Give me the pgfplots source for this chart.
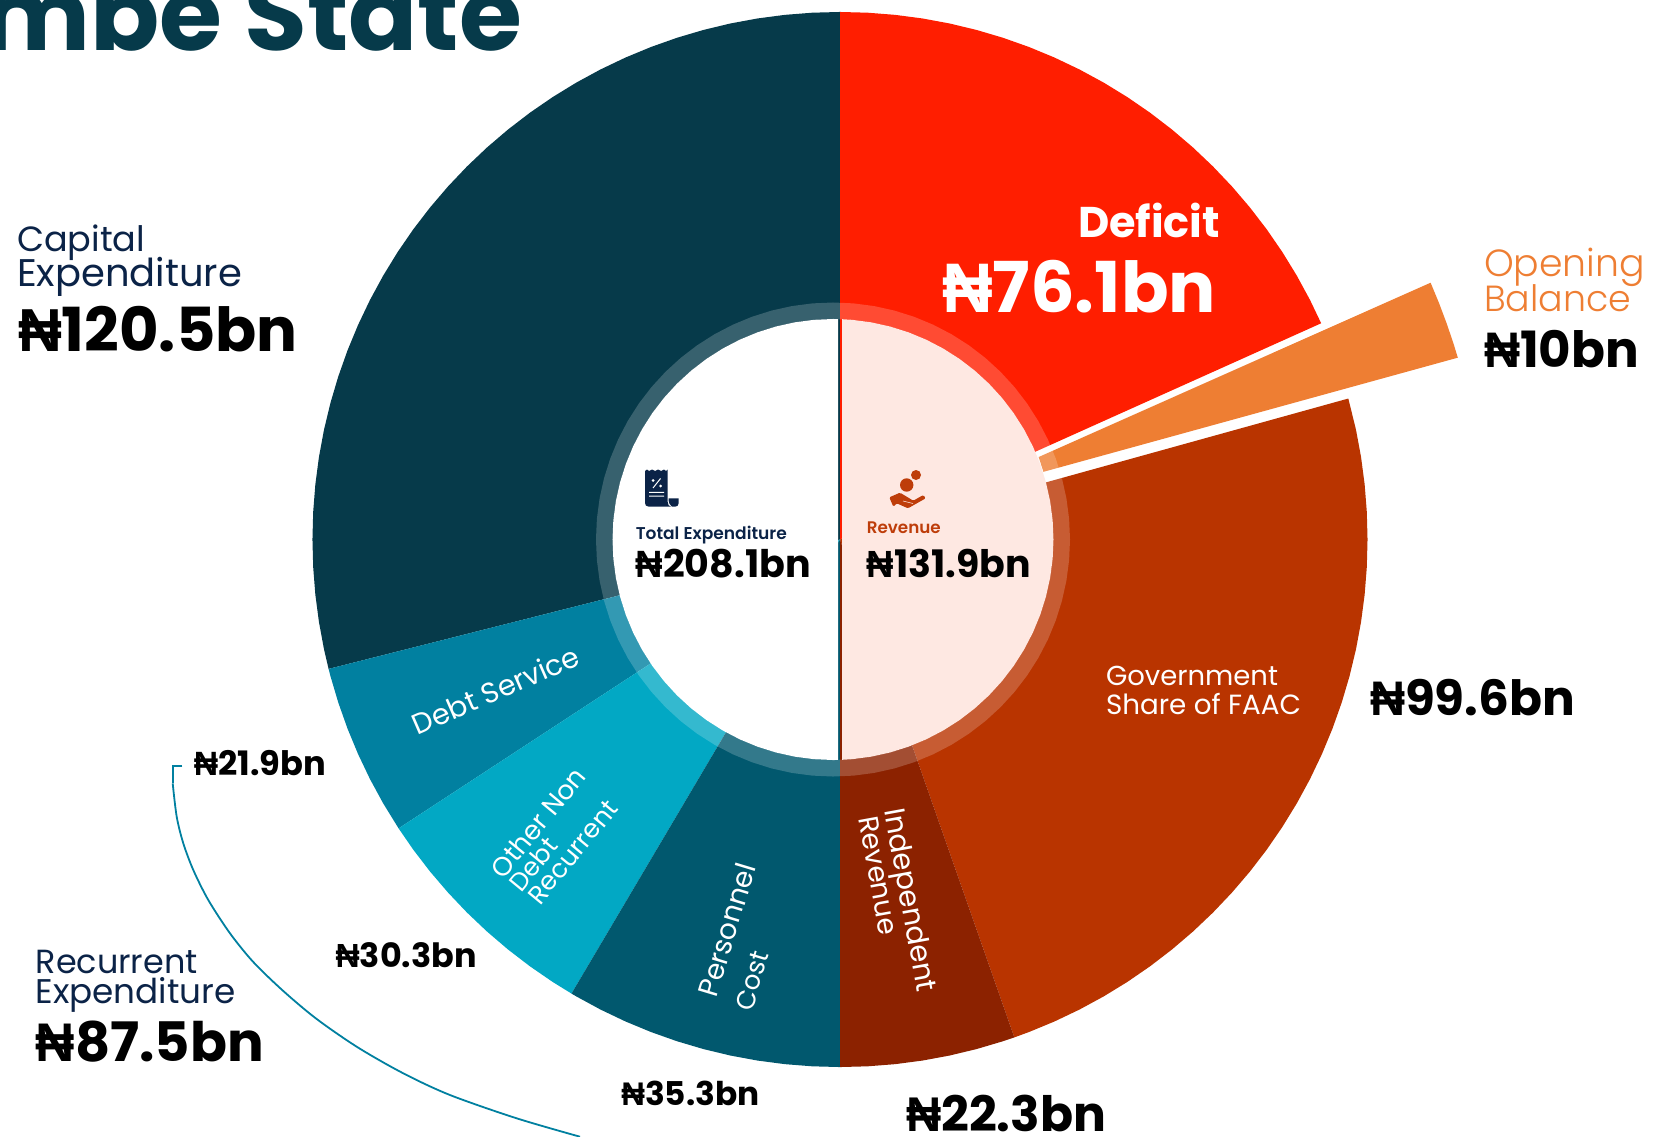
\documentclass[border=0pt]{standalone}
\usepackage{pgfplots}
\pgfplotsset{compat=1.18}
\usepgfplotslibrary{polar}
\usepackage{fontspec}
\setmainfont{Poppins}
\newfontfamily\pb{Poppins}[UprightFont=* Bold]
\newfontfamily\pl{Poppins}[UprightFont=* Light]
\newfontfamily\pmed{Poppins}[UprightFont=* Medium]
\newfontfamily\psemi{Poppins}[UprightFont=* SemiBold]
\newfontfamily\nai{Liberation Sans}[UprightFont=* Bold]
\newcommand\naira{{\nai ₦}}
\definecolor{capc}{HTML}{063A4A}
\definecolor{debtc}{HTML}{0180A0}
\definecolor{otherc}{HTML}{02A8C4}
\definecolor{persc}{HTML}{01586E}
\definecolor{defc}{HTML}{FF1E00}
\definecolor{openc}{HTML}{EE7E33}
\definecolor{faacc}{HTML}{B93400}
\definecolor{indc}{HTML}{8C2200}
\definecolor{pinkc}{HTML}{FEE8E2}
\definecolor{navyc}{HTML}{0B2347}
\definecolor{revc}{HTML}{BE3D0A}
\newcommand\lab[6]{\node[anchor=base west,inner sep=0pt,outer sep=0pt,rotate=#3,text=#4] at (#1,#2) {\resizebox{#5pt}{!}{#6}};}
\begin{document}
\begin{tikzpicture}[x=1pt,y=-1pt]
\path[use as bounding box] (0,0) rectangle (1660,1137);
% title, cut by the top of the page
\node[anchor=base east,inner sep=0pt,outer sep=0pt,text=capc] at (522,50.5) {\fontsize{102}{102}\selectfont\pb Gombe State};
% outer ring: angles from the values (180 degrees = 208.1bn), radius in px
\begin{polaraxis}[at={(840pt,-539.5pt)},anchor=center,scale only axis,width=1300pt,height=1300pt,xmin=0,xmax=360,ymin=0,ymax=650,hide axis,clip=false]
% Capital Expenditure 120.5
\addplot[fill=capc,draw=none,no markers] coordinates {(90,0)(90,527.5)(93,527.5)(96,527.5)(99,527.5)(102,527.5)(105,527.5)(108,527.5)(111,527.5)(114,527.5)(117,527.5)(120,527.5)(123,527.5)(126,527.5)(129,527.5)(132,527.5)(135,527.5)(138,527.5)(141,527.5)(144,527.5)(147,527.5)(150,527.5)(153,527.5)(156,527.5)(159,527.5)(162,527.5)(165,527.5)(168,527.5)(171,527.5)(174,527.5)(177,527.5)(180,527.5)(183,527.5)(186,527.5)(189,527.5)(192,527.5)(194.2,527.5)};
% Debt Service 21.9
\addplot[fill=debtc,draw=none,no markers] coordinates {(194.2,0)(194.2,527.5)(195,527.5)(198,527.5)(201,527.5)(204,527.5)(207,527.5)(210,527.5)(213.2,527.5)};
% Other Non Debt Recurrent 30.3
\addplot[fill=otherc,draw=none,no markers] coordinates {(213.2,0)(213.2,527.5)(216,527.5)(219,527.5)(222,527.5)(225,527.5)(228,527.5)(231,527.5)(234,527.5)(237,527.5)(239.4,527.5)};
% Personnel Cost 35.3
\addplot[fill=persc,draw=none,no markers] coordinates {(239.4,0)(239.4,527.5)(240,527.5)(243,527.5)(246,527.5)(249,527.5)(252,527.5)(255,527.5)(258,527.5)(261,527.5)(264,527.5)(267,527.5)(270,527.5)};
% Deficit 76.1
\addplot[fill=defc,draw=none,no markers] coordinates {(90,0)(90,527.5)(87,527.5)(84,527.5)(81,527.5)(78,527.5)(75,527.5)(72,527.5)(69,527.5)(66,527.5)(63,527.5)(60,527.5)(57,527.5)(54,527.5)(51,527.5)(48,527.5)(45,527.5)(42,527.5)(39,527.5)(36,527.5)(33,527.5)(30,527.5)(27,527.5)(24.2,527.5)};
% Opening Balance 10, pulled out
\addplot[fill=openc,draw=none,no markers] coordinates {(22.55,215.1)(23.5,644)(21.5,644)(19.5,644)(17.5,644)(16.4,644)(18.4,214.4)};
% Government Share of FAAC 99.6
\addplot[fill=faacc,draw=none,no markers] coordinates {(15.5,0)(15.5,527.5)(12,527.5)(9,527.5)(6,527.5)(3,527.5)(0,527.5)(-3,527.5)(-6,527.5)(-9,527.5)(-12,527.5)(-15,527.5)(-18,527.5)(-21,527.5)(-24,527.5)(-27,527.5)(-30,527.5)(-33,527.5)(-36,527.5)(-39,527.5)(-42,527.5)(-45,527.5)(-48,527.5)(-51,527.5)(-54,527.5)(-57,527.5)(-60,527.5)(-63,527.5)(-66,527.5)(-69,527.5)(-70.7,527.5)};
% Independent Revenue 22.3
\addplot[fill=indc,draw=none,no markers] coordinates {(-70.7,0)(-70.7,527.5)(-72,527.5)(-75,527.5)(-78,527.5)(-81,527.5)(-84,527.5)(-87,527.5)(-90,527.5)(-90,0)};
\end{polaraxis}
% centre: pale ring and the two half discs, a little to the left of the ring's centre
\begin{polaraxis}[at={(833pt,-539.5pt)},anchor=center,scale only axis,width=1300pt,height=1300pt,xmin=0,xmax=360,ymin=0,ymax=650,hide axis,clip=false]
\addplot[fill=white,fill opacity=0.2,draw=none,no markers] coordinates {(0,237)(5,237)(10,237)(15,237)(20,237)(25,237)(30,237)(35,237)(40,237)(45,237)(50,237)(55,237)(60,237)(65,237)(70,237)(75,237)(80,237)(85,237)(90,237)(95,237)(100,237)(105,237)(110,237)(115,237)(120,237)(125,237)(130,237)(135,237)(140,237)(145,237)(150,237)(155,237)(160,237)(165,237)(170,237)(175,237)(180,237)(185,237)(190,237)(195,237)(200,237)(205,237)(210,237)(215,237)(220,237)(225,237)(230,237)(235,237)(240,237)(245,237)(250,237)(255,237)(260,237)(265,237)(270,237)(275,237)(280,237)(285,237)(290,237)(295,237)(300,237)(305,237)(310,237)(315,237)(320,237)(325,237)(330,237)(335,237)(340,237)(345,237)(350,237)(355,237)(360,237)
(360,220.5)(355,220.5)(350,220.5)(345,220.5)(340,220.5)(335,220.5)(330,220.5)(325,220.5)(320,220.5)(315,220.5)(310,220.5)(305,220.5)(300,220.5)(295,220.5)(290,220.5)(285,220.5)(280,220.5)(275,220.5)(270,220.5)(265,220.5)(260,220.5)(255,220.5)(250,220.5)(245,220.5)(240,220.5)(235,220.5)(230,220.5)(225,220.5)(220,220.5)(215,220.5)(210,220.5)(205,220.5)(200,220.5)(195,220.5)(190,220.5)(185,220.5)(180,220.5)(175,220.5)(170,220.5)(165,220.5)(160,220.5)(155,220.5)(150,220.5)(145,220.5)(140,220.5)(135,220.5)(130,220.5)(125,220.5)(120,220.5)(115,220.5)(110,220.5)(105,220.5)(100,220.5)(95,220.5)(90,220.5)(85,220.5)(80,220.5)(75,220.5)(70,220.5)(65,220.5)(60,220.5)(55,220.5)(50,220.5)(45,220.5)(40,220.5)(35,220.5)(30,220.5)(25,220.5)(20,220.5)(15,220.5)(10,220.5)(5,220.5)(0,220.5)};
\addplot[fill=white,draw=none,no markers] coordinates {(88.7,220.5)(90,220.5)(95,220.5)(100,220.5)(105,220.5)(110,220.5)(115,220.5)(120,220.5)(125,220.5)(130,220.5)(135,220.5)(140,220.5)(145,220.5)(150,220.5)(155,220.5)(160,220.5)(165,220.5)(170,220.5)(175,220.5)(180,220.5)(185,220.5)(190,220.5)(195,220.5)(200,220.5)(205,220.5)(210,220.5)(215,220.5)(220,220.5)(225,220.5)(230,220.5)(235,220.5)(240,220.5)(245,220.5)(250,220.5)(255,220.5)(260,220.5)(265,220.5)(270,220.5)(271.3,220.5)};
\addplot[fill=pinkc,draw=none,no markers] coordinates {(87.66,220.5)(85,220.5)(80,220.5)(75,220.5)(70,220.5)(65,220.5)(60,220.5)(55,220.5)(50,220.5)(45,220.5)(40,220.5)(35,220.5)(30,220.5)(25,220.5)(20,220.5)(15,220.5)(10,220.5)(5,220.5)(0,220.5)(-5,220.5)(-10,220.5)(-15,220.5)(-20,220.5)(-25,220.5)(-30,220.5)(-35,220.5)(-40,220.5)(-45,220.5)(-50,220.5)(-55,220.5)(-60,220.5)(-65,220.5)(-70,220.5)(-75,220.5)(-80,220.5)(-85,220.5)(-87.66,220.5)};
\end{polaraxis}
% bracket of Recurrent Expenditure, in page pixels
\begin{axis}[at={(0pt,0pt)},anchor=north west,scale only axis,width=1660pt,height=1137pt,xmin=0,xmax=1660,ymin=0,ymax=1137,y dir=reverse,hide axis,clip=false]
\addplot[color=debtc,line width=1.8pt,no markers] coordinates {(182.3,765.7)(172.7,765.7)(172.7,783.3)};
\addplot[color=debtc,line width=1.8pt,no markers,smooth] coordinates {(172.7,783.3)(176.7,816.7)(183.3,843.3)(193.3,870)(208.3,900)(230,933.3)(253.3,962)(283.3,991)(316.7,1019)(358,1047.5)(403.3,1073.3)(450,1095)(516.7,1118.3)(580,1136.7)};
\end{axis}
% icons
\fill[navyc] (645,471) -- (647,469.5) -- (649,471) -- (652,469.5) -- (655,471) -- (658,469.5) -- (661,471) -- (664,469.5) -- (666,471) -- (667.7,469.5) -- (667.7,502) .. controls (667.7,505) and (669,506) .. (671,506.7) -- (649,506.7) .. controls (646,506.7) and (645,505) .. (645,503) -- cycle;
\fill[navyc] (668.5,498.3) -- (678.7,498.3) -- (678.7,503) .. controls (678.7,505.5) and (677,506.7) .. (675,506.7) -- (672,506.7) .. controls (670,505.5) and (668.5,503) .. (668.5,498.3) -- cycle;
\draw[white,line width=1pt] (649,492.3) -- (664,492.3) (649,496.2) -- (664,496.2) (653,488) -- (660.5,478.5);
\fill[white] (653,480.5) circle (1.5) (660.5,486) circle (1.5);
\fill[revc] (906.7,485) circle (6.7) (916,475) circle (5);
\fill[revc,rounded corners=1.2pt] (889.3,497.3) -- (900,492.7) -- (906.7,496.7) -- (913.3,500.7) -- (923.3,495) -- (925.7,498.3) -- (908,508.3) -- (896.7,503.3) -- (893.3,506.7) -- cycle;
\draw[pinkc,line width=0.6pt] (903,501) -- (913,503.5);
% labels: x, y of the start of the baseline, rotation, colour, width, text
\lab{17}{251.7}{0}{navyc}{128}{Capital}
\lab{17}{286.5}{0}{navyc}{225}{Expenditure}
\lab{18}{351.2}{0}{black}{279.5}{\pb\naira 120.5bn}
\lab{1078}{237}{0}{white}{142}{\pb Deficit}
\lab{942}{312}{0}{white}{274}{\pb\naira 76.1bn}
\lab{1484}{276.7}{0}{openc}{161}{\pl Opening}
\lab{1484}{311}{0}{openc}{147}{\pl Balance}
\lab{1484}{367.5}{0}{black}{155}{\pb\naira 10bn}
\lab{1370}{715}{0}{black}{205}{\pb\naira 99.6bn}
\lab{906}{1131.7}{0}{black}{200}{\pb\naira 22.3bn}
\lab{621.4}{1105}{0}{black}{138}{\pb\naira 35.3bn}
\lab{335.7}{967.8}{0}{black}{141}{\pb\naira 30.3bn}
\lab{193.9}{775.5}{0}{black}{132}{\pb\naira 21.9bn}
\lab{35.7}{973.8}{0}{navyc}{162}{Recurrent}
\lab{35.7}{1003.5}{0}{navyc}{200}{Expenditure}
\lab{35.7}{1061.2}{0}{black}{228}{\pb\naira 87.5bn}
\lab{635.8}{539}{0}{navyc}{151}{\psemi Total Expenditure}
\lab{635.8}{577}{0}{black}{175}{\pb\naira 208.1bn}
\lab{866.8}{533.3}{0}{revc}{74}{\psemi Revenue}
\lab{866.8}{577}{0}{black}{164}{\pb\naira 131.9bn}
\lab{1106}{685}{0}{white}{172}{Government}
\lab{1106}{714}{0}{white}{195}{Share of FAAC}
\lab{417.7}{735.5}{23.5}{white}{179}{Debt Service}
\lab{503}{880}{50.5}{white}{133}{Other Non}
\lab{521.5}{893}{50.5}{white}{60}{Debt}
\lab{540}{906}{50.5}{white}{125}{Recurrent}
\lab{716.7}{998.3}{73.2}{white}{137}{Personnel}
\lab{752}{1012}{73.2}{white}{60}{Cost}
\lab{884}{810}{-79.6}{white}{186}{Independent}
\lab{858}{818}{-79.6}{white}{120}{Revenue}
\end{tikzpicture}
\end{document}
